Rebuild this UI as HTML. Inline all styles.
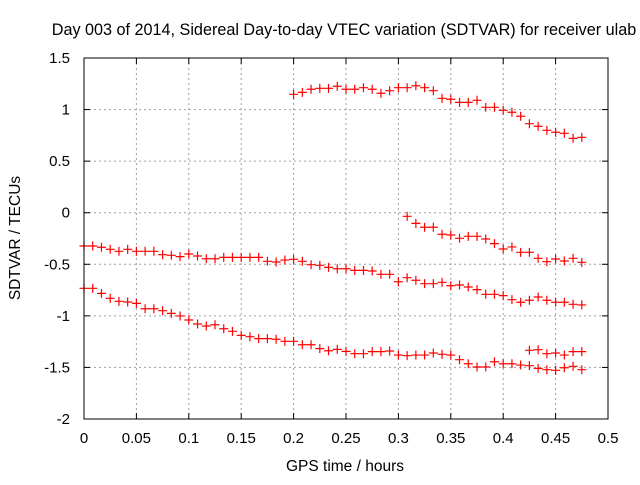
<!DOCTYPE html>
<html><head><meta charset="utf-8"><style>
html,body{margin:0;padding:0;background:#fff;}
svg text{font-family:"Liberation Sans",Arial,sans-serif;font-size:15px;fill:#000;}
</style></head><body>
<svg id="chart" width="640" height="480" xmlns="http://www.w3.org/2000/svg">
<rect width="640" height="480" fill="#fff"/>
<text x="344" y="35" text-anchor="middle" style="font-size:16.2px">Day 003 of 2014, Sidereal Day-to-day VTEC variation (SDTVAR) for receiver ulab</text>
<text x="0" y="0" transform="translate(20,238) rotate(-90)" text-anchor="middle" style="font-size:15.5px">SDTVAR / TECUs</text>
<text x="345" y="471" text-anchor="middle" style="font-size:15.5px">GPS time / hours</text>
<g id="grid"></g><g id="ticks"></g><g id="marks"></g>
<rect x="84" y="58" width="524" height="361" fill="none" stroke="#000" stroke-width="1"/>
</svg>
<script>
const xTicks=[0,0.05,0.1,0.15,0.2,0.25,0.3,0.35,0.4,0.45,0.5];
const xTickLabels=["0","0.05","0.1","0.15","0.2","0.25","0.3","0.35","0.4","0.45","0.5"];
const yTicks=[1.5,1,0.5,0,-0.5,-1,-1.5,-2];
const yTickLabels=["1.5","1","0.5","0","-0.5","-1","-1.5","-2"];
const sampleStep=1/120;
const seriesAStart=0;
const seriesA=[-0.323,-0.323,-0.335,-0.355,-0.374,-0.355,-0.374,-0.374,-0.374,-0.407,-0.413,-0.426,-0.400,-0.420,-0.446,-0.446,-0.433,-0.433,-0.433,-0.433,-0.433,-0.471,-0.478,-0.459,-0.452,-0.471,-0.504,-0.510,-0.530,-0.543,-0.543,-0.559,-0.559,-0.565,-0.597,-0.597,-0.669,-0.63,-0.655,-0.688,-0.688,-0.675,-0.708,-0.701,-0.72,-0.746,-0.791,-0.791,-0.804,-0.843,-0.868,-0.849,-0.817,-0.849,-0.868,-0.868,-0.888,-0.894];
const seriesBStart=0;
const seriesB=[-0.733,-0.733,-0.782,-0.830,-0.859,-0.866,-0.879,-0.931,-0.931,-0.950,-0.976,-1.001,-1.040,-1.079,-1.098,-1.086,-1.125,-1.150,-1.189,-1.202,-1.221,-1.221,-1.227,-1.247,-1.247,-1.280,-1.280,-1.318,-1.338,-1.325,-1.344,-1.367,-1.367,-1.347,-1.347,-1.341,-1.380,-1.386,-1.380,-1.380,-1.360,-1.373,-1.380,-1.425,-1.464,-1.496,-1.496,-1.445,-1.464,-1.464,-1.477,-1.483,-1.509,-1.522,-1.528,-1.503,-1.489,-1.522];
const seriesCStart=37;
const seriesC=[-0.035,-0.103,-0.141,-0.141,-0.209,-0.216,-0.248,-0.229,-0.229,-0.255,-0.300,-0.352,-0.332,-0.384,-0.384,-0.442,-0.475,-0.449,-0.468,-0.442,-0.481];
const seriesDStart=51;
const seriesD=[-1.334,-1.328,-1.367,-1.360,-1.380,-1.347,-1.347];
const seriesEStart=24;
const seriesE=[1.148,1.167,1.197,1.206,1.206,1.226,1.197,1.197,1.212,1.197,1.158,1.183,1.212,1.212,1.231,1.212,1.183,1.109,1.100,1.070,1.070,1.090,1.022,1.022,0.993,0.974,0.935,0.863,0.838,0.799,0.780,0.770,0.721,0.731];

const L=84,R=608,T=58,B=419;
const xS=v=>L+(v-0)/(0.5-0)*(R-L);
const yS=v=>B-(v-(-2))/(1.5-(-2))*(B-T);
const NS="http://www.w3.org/2000/svg";
function mk(tag,attrs,parent){const e=document.createElementNS(NS,tag);for(const k in attrs)e.setAttribute(k,attrs[k]);parent.appendChild(e);return e;}
const grid=document.getElementById('grid'),ticks=document.getElementById('ticks'),marks=document.getElementById('marks');
xTicks.forEach((v,i)=>{const x=xS(v);
 if(i>0&&i<xTicks.length-1){const g=mk('line',{x1:x,y1:T,x2:x,y2:B,stroke:'#a0a0a0','stroke-dasharray':'2,3'},grid);
 
 }
 mk('line',{x1:x,y1:B,x2:x,y2:B-6,stroke:'#000'},ticks);mk('line',{x1:x,y1:T,x2:x,y2:T+6,stroke:'#000'},ticks);
 const t=mk('text',{x:x,y:B+24,'text-anchor':'middle'},ticks);t.textContent=xTickLabels[i];
 
 });
yTicks.forEach((v,i)=>{const y=yS(v);
 if(i>0&&i<yTicks.length-1){const g=mk('line',{x1:L,y1:y,x2:R,y2:y,stroke:'#a0a0a0','stroke-dasharray':'2,3'},grid);
 
 }
 mk('line',{x1:L,y1:y,x2:L+6,y2:y,stroke:'#000'},ticks);mk('line',{x1:R,y1:y,x2:R-6,y2:y,stroke:'#000'},ticks);
 const t=mk('text',{x:L-14,y:y+5,'text-anchor':'end'},ticks);t.textContent=yTickLabels[i];
 
 });
function drawSeries(start,vals,name){
 const g=mk('g',{},marks);
 
 
 vals.forEach((v,i)=>{const x=xS((start+i)*sampleStep),y=yS(v);
  const p=mk('path',{d:`M${x-4.5},${y}H${x+4.5}M${x},${y-4.5}V${y+4.5}`,stroke:'#f00','stroke-width':1.2,fill:'none'},g);
  
  });
}
drawSeries(seriesAStart,seriesA,'series-a');
drawSeries(seriesBStart,seriesB,'series-b');
drawSeries(seriesCStart,seriesC,'series-c');
drawSeries(seriesDStart,seriesD,'series-d');
drawSeries(seriesEStart,seriesE,'series-e');
</script>
</body></html>
